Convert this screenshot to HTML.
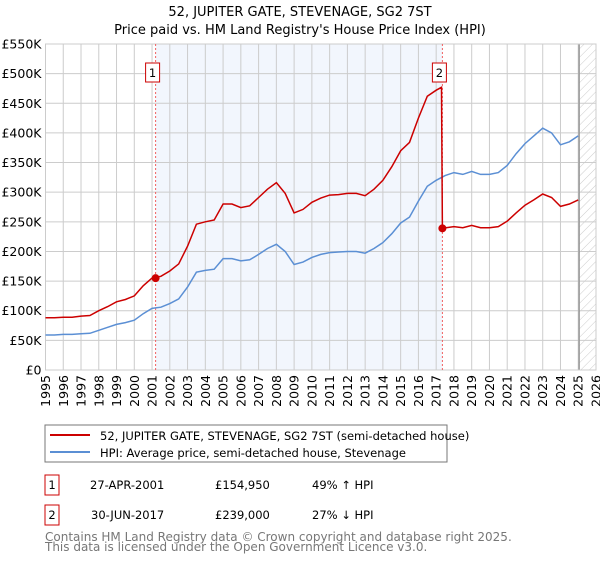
<!DOCTYPE html>
<html><head><meta charset="utf-8"><style>
body{margin:0;background:#fff;font-family:"Liberation Sans","DejaVu Sans",sans-serif;}
svg text{font-family:"DejaVu Sans","Liberation Sans",sans-serif;}
</style></head><body>
<svg id="c" width="600" height="560" xmlns="http://www.w3.org/2000/svg">
<defs><pattern id="hatch" width="6" height="6" patternUnits="userSpaceOnUse" patternTransform="rotate(45)"><line x1="0" y1="0" x2="0" y2="6" stroke="#ccc" stroke-width="1"/></pattern></defs>
<text x="300" y="16" text-anchor="middle" font-size="13">52, JUPITER GATE, STEVENAGE, SG2 7ST</text>
<text x="300" y="34" text-anchor="middle" font-size="13">Price paid vs. HM Land Registry's House Price Index (HPI)</text>
<g id="plot"></g>
<rect x="45" y="425" width="402" height="37" fill="#fff" stroke="#777"/>
<line x1="50" y1="435" x2="90" y2="435" stroke="#cc0000" stroke-width="2"/>
<text x="100" y="440" font-size="11.5">52, JUPITER GATE, STEVENAGE, SG2 7ST (semi-detached house)</text>
<line x1="50" y1="452" x2="90" y2="452" stroke="#5b8fd4" stroke-width="2"/>
<text x="100" y="457" font-size="11.5">HPI: Average price, semi-detached house, Stevenage</text>
<g font-size="11.5">
<rect x="45" y="475" width="14" height="20" fill="#fff" stroke="#cc0000"/>
<text x="52" y="489" text-anchor="middle">1</text>
<text x="90" y="489">27-APR-2001</text>
<text x="215" y="489">£154,950</text>
<text x="312" y="489">49% ↑ HPI</text>
<rect x="45" y="505" width="14" height="20" fill="#fff" stroke="#cc0000"/>
<text x="52" y="519" text-anchor="middle">2</text>
<text x="91" y="519">30-JUN-2017</text>
<text x="215" y="519">£239,000</text>
<text x="312" y="519">27% ↓ HPI</text>
</g>
<text x="45" y="541" font-size="12" fill="#777">Contains HM Land Registry data © Crown copyright and database right 2025.</text>
<text x="45" y="551" font-size="12" fill="#777">This data is licensed under the Open Government Licence v3.0.</text>
</svg>
<script>
const hpiYears=[1995,1995.5,1996,1996.5,1997,1997.5,1998,1998.5,1999,1999.5,2000,2000.5,2001,2001.5,2002,2002.5,2003,2003.5,2004,2004.5,2005,2005.5,2006,2006.5,2007,2007.5,2008,2008.5,2009,2009.5,2010,2010.5,2011,2011.5,2012,2012.5,2013,2013.5,2014,2014.5,2015,2015.5,2016,2016.5,2017,2017.5,2018,2018.5,2019,2019.5,2020,2020.5,2021,2021.5,2022,2022.5,2023,2023.5,2024,2024.5,2025];
const hpiValues=[59,59,60,60,61,62,67,72,77,80,84,95,104,106,112,120,140,165,168,170,188,188,184,186,195,205,212,200,178,182,190,195,198,199,200,200,197,205,215,230,248,258,285,310,320,328,333,330,335,330,330,333,345,365,382,395,408,400,380,385,395];
const redYears=[1995,1995.5,1996,1996.5,1997,1997.5,1998,1998.5,1999,1999.5,2000,2000.5,2001,2001.5,2002,2002.5,2003,2003.5,2004,2004.5,2005,2005.5,2006,2006.5,2007,2007.5,2008,2008.5,2009,2009.5,2010,2010.5,2011,2011.5,2012,2012.5,2013,2013.5,2014,2014.5,2015,2015.5,2016,2016.5,2017,2017.3,2017.35,2018,2018.5,2019,2019.5,2020,2020.5,2021,2021.5,2022,2022.5,2023,2023.5,2024,2024.5,2025];
const redValues=[88,88,89,89,91,92,100,107,115,119,125,142,155,158,167,179,209,246,250,253,280,280,274,277,291,305,316,298,265,271,283,290,295,296,298,298,294,305,320,343,370,384,425,462,472,477,239,242,240,244,240,240,242,251,265,278,287,297,291,276,280,287];
const saleYears=[2001.2,2017.35];
const saleValues=[154.95,239];
const saleLabels=["1","2"];
const yTicks=[0,50,100,150,200,250,300,350,400,450,500,550];
const yTickLabels=["£0","£50K","£100K","£150K","£200K","£250K","£300K","£350K","£400K","£450K","£500K","£550K"];
const xTicks=[1995,1996,1997,1998,1999,2000,2001,2002,2003,2004,2005,2006,2007,2008,2009,2010,2011,2012,2013,2014,2015,2016,2017,2018,2019,2020,2021,2022,2023,2024,2025,2026];

const X0=45.5,X1=596,Y0=370,Y1=44;
const xs=y=>X0+(y-1995)/(2026-1995)*(X1-X0);
const ys=v=>Y0-v/550*(Y0-Y1);
const NS="http://www.w3.org/2000/svg";
const g=document.getElementById('plot');
function mk(t,a){const e=document.createElementNS(NS,t);for(const k in a)e.setAttribute(k,a[k]);g.appendChild(e);return e;}
let e;
e=mk('rect',{x:X0,y:Y1,width:X1-X0,height:Y0-Y1,fill:'#fff'});


e=mk('rect',{x:xs(saleYears[0]),y:Y1,width:xs(saleYears[1])-xs(saleYears[0]),height:Y0-Y1,fill:'#eef3fc',opacity:0.75});


e=mk('rect',{x:xs(2025.05),y:Y1,width:X1-xs(2025.05),height:Y0-Y1,fill:'url(#hatch)'});


yTicks.forEach((v,i)=>{
 e=mk('line',{x1:X0,x2:X1,y1:ys(v),y2:ys(v),stroke:'#ccc','stroke-width':1});
 
 
 e=mk('text',{x:X0-4,y:ys(v)+4.5,'text-anchor':'end','font-size':12.5});
 e.textContent=yTickLabels[i];
 
 
});
xTicks.forEach(yr=>{
 e=mk('line',{x1:xs(yr),x2:xs(yr),y1:Y1,y2:Y0,stroke:'#ccc','stroke-width':1});
 
 
 e=mk('text',{x:0,y:0,'text-anchor':'end','font-size':12.5,transform:`translate(${xs(yr)+4.5},375) rotate(-90)`});
 e.textContent=yr;
 
 
});
e=mk('line',{x1:xs(2025.05),x2:xs(2025.05),y1:Y1,y2:Y0,stroke:'#999','stroke-width':1.5});


e=mk('rect',{x:X0,y:Y1,width:X1-X0,height:Y0-Y1,fill:'none',stroke:'#ccc'});


saleYears.forEach(yr=>{
 e=mk('line',{x1:xs(yr),x2:xs(yr),y1:Y1,y2:Y0,stroke:'#f06060','stroke-width':1,'stroke-dasharray':'2,2'});
 
 
});
function path(xa,va){return xa.map((x,i)=>(i?'L':'M')+xs(x).toFixed(1)+','+ys(va[i]).toFixed(1)).join('');}
e=mk('path',{d:path(hpiYears,hpiValues),fill:'none',stroke:'#5b8fd4','stroke-width':1.5});


e=mk('path',{d:path(redYears,redValues),fill:'none',stroke:'#cc0000','stroke-width':1.5});


saleYears.forEach((yr,i)=>{
 e=mk('circle',{cx:xs(yr),cy:ys(saleValues[i]),r:4,fill:'#cc0000'});
 
 
 e=mk('rect',{x:xs(yr)-10,y:63,width:14,height:19,fill:'#fff',stroke:'#cc0000'});
 
 
 e=mk('text',{x:xs(yr)-3,y:77,'text-anchor':'middle','font-size':11.5});
 e.textContent=saleLabels[i];
 
 
});
</script>
</body></html>
